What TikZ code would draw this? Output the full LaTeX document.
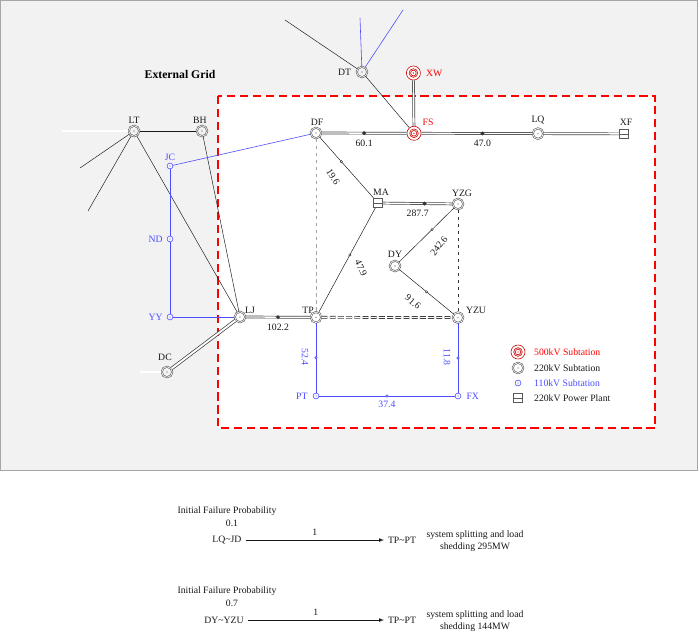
\documentclass[tikz,border=0pt]{standalone}
\usepackage{fontspec}
\setmainfont{Liberation Serif}
\begin{document}
\begin{tikzpicture}[x=0.03cm,y=-0.03cm,font=\fontsize{8.3}{10}\selectfont,
 k/.style={circle,draw=gray!70!black,double=white,double distance=0.6pt,line width=0.5pt,inner sep=0pt,minimum size=9pt,path picture={\fill[gray!60!black](path picture bounding box.center) circle(0.5pt);}},
 r5/.style={circle,draw=red!80!black,fill=white,line width=0.5pt,inner sep=0pt,minimum size=12pt,path picture={\draw[red!80!black,line width=0.5pt](path picture bounding box.center) circle(3.7pt) circle(2.4pt);\fill[red!80!black](path picture bounding box.center) circle(0.6pt);}},
 b/.style={circle,draw=blue!70,fill=white,line width=0.5pt,inner sep=0pt,minimum size=5pt,path picture={\fill[blue!70](path picture bounding box.center) circle(0.5pt);}},
 pp/.style={rectangle,draw=gray!70!black,fill=white,line width=0.4pt,inner sep=0pt,minimum size=8pt,path picture={\draw[gray!70!black](path picture bounding box.west)--(path picture bounding box.east);}},
 ln/.style={draw=gray!20!black,line width=0.4pt},
 dl/.style={draw=white,line width=1.1pt,preaction={draw=gray!55!black,line width=2.3pt}},
 dld/.style={draw=white,line width=1.1pt,dash pattern=on 5pt off 2pt,preaction={draw=gray!30!black,line width=2.3pt,dash pattern=on 5pt off 2pt}},
 bl/.style={draw=blue!70,line width=0.5pt},
 ds/.style={draw=gray!70,dashed,line width=0.6pt},
 lab/.style={text=gray!20!black},
 blab/.style={text=blue!70},
 mk/.style={circle,draw=gray!40!black,fill=white,inner sep=0pt,minimum size=2pt},
]
\useasboundingbox (0,0) rectangle (700,637);
\fill[white](0,0) rectangle (700,637);
\draw[fill=gray!10,draw=gray!70,line width=0.6pt](0,0) rectangle (697,470);
\draw[fill=white,draw=red,dashed,dash pattern=on 7pt off 4pt,line width=1pt](218,96) rectangle (655,428);
\node[font=\bfseries\fontsize{10}{11}\selectfont] at (180,74) {External Grid};
% nodes
\node[k] (DT) at (362,72) {};
\node[r5] (XW) at (413.4,73) {};
\node[r5] (FS) at (414,133.3) {};
\node[k] (DF) at (316,133) {};
\node[k] (LQ) at (538,133.6) {};
\node[pp] (XF) at (624,133.9) {};
\node[k] (LT) at (134,131) {};
\node[k] (BH) at (202,131) {};
\node[b] (JC) at (170,166) {};
\node[b] (ND) at (170,239) {};
\node[b] (YY) at (170,317) {};
\node[k] (LJ) at (240,317) {};
\node[k] (DC) at (167,372) {};
\node[k] (TP) at (316,317.3) {};
\node[pp] (MA) at (378,203) {};
\node[k] (YZG) at (458,204) {};
\node[k] (DY) at (395,266) {};
\node[k] (YZU) at (458,317.6) {};
\node[b] (PT) at (316,396) {};
\node[b] (FX) at (458,396) {};
\coordinate (e1) at (285,20); \coordinate (e2) at (360,18); \coordinate (e3) at (403,10);
\coordinate (e4) at (62,131); \coordinate (e5) at (80,168); \coordinate (e6) at (88,211);
\coordinate (e7) at (140,372);
% connectors
\draw[ln] (DT)--(e1); \draw[bl] (DT)--(e2); \draw[bl] (DT)--(e3);
\draw[ln] (DT)--(FS);
\draw[dl] (XW)--(FS);
\draw[dl] (LT)--(e4); \draw[ln] (LT)--(e5); \draw[ln] (LT)--(e6);
\draw[ln] (LT)--(BH); \draw[ln] (LT)--(LJ); \draw[ln] (BH)--(LJ);
\draw[bl] (JC)--(DF); \draw[bl] (JC)--(ND)--(YY)--(LJ);
\draw[dl] (DC)--(e7);
\draw[dl,line width=1.6pt,preaction={draw=gray!55!black,line width=2.8pt}] (LJ)--(DC);
\draw[dl] (DF)--(FS) node[mk,pos=0.5]{} node[pos=0.5,below=2pt,lab]{60.1};
\draw[dl] (FS)--(LQ) node[mk,pos=0.55]{} node[pos=0.55,below=2pt,lab]{47.0};
\draw[dl] (LQ)--(XF);
\draw[ln] (DF)--(MA) node[mk,pos=0.4]{};
\node[lab,rotate=-58] at (333,177) {19.6};
\draw[ds] (DF)--(TP);
\draw[dl] (MA)--(YZG) node[mk,pos=0.6]{} node[pos=0.5,below=2pt,lab]{287.7};
\draw[ln] (MA)--(TP) node[mk,pos=0.45]{};
\node[lab,rotate=-65] at (361,268) {47.9};
\draw[ln] (YZG)--(DY) node[mk,pos=0.4]{};
\node[lab,rotate=52] at (439,246) {242.6};
\draw[ln] (DY)--(YZU) node[mk,pos=0.5]{};
\node[lab,rotate=-40] at (413,302) {91.6};
\draw[ds,draw=gray!40!black] (YZG)--(YZU);
\draw[dl] (LJ)--(TP) node[mk,pos=0.5]{} node[pos=0.5,below=2pt,lab]{102.2};
\draw[dld] (TP)--(YZU);
\draw[bl] (TP)--(PT) node[mk,draw=blue!70,pos=0.5]{};
\node[blab,rotate=-90] at (305,357) {52.4};
\draw[bl] (YZU)--(FX) node[mk,draw=blue!70,pos=0.5]{};
\node[blab,rotate=-90] at (447,357) {11.8};
\draw[bl] (PT)--(FX) node[mk,draw=blue!70,pos=0.5]{} node[pos=0.5,below=1pt,blab]{37.4};
% labels
\node[lab,left=1pt] at (DT.west) {DT};
\node[text=red,right=1pt] at (XW.east) {XW};
\node[text=red] at (428,122) {FS};
\node[lab] at (317,122) {DF};
\node[lab] at (538,120) {LQ};
\node[lab] at (626,122) {XF};
\node[lab] at (134,120) {LT};
\node[lab] at (200,120) {BH};
\node[blab] at (170,157) {JC};
\node[blab,left=0pt] at (ND.west) {ND};
\node[blab,left=0pt] at (YY.west) {YY};
\node[lab] at (250,310) {LJ};
\node[lab] at (165,357) {DC};
\node[lab] at (308,310) {TP};
\node[lab] at (381,192) {MA};
\node[lab] at (462,193) {YZG};
\node[lab] at (395,254) {DY};
\node[lab] at (476,310) {YZU};
\node[blab,left=1pt] at (PT.west) {PT};
\node[blab,right=1pt] at (FX.east) {FX};
% legend
\node[r5] (L1) at (518,352) {}; \node[text=red,anchor=west] at (530,352) {500kV Subtation};
\node[k] (L2) at (518,368) {}; \node[lab,anchor=west] at (530,368) {220kV Subtation};
\node[b] (L3) at (518,383) {}; \node[blab,anchor=west] at (530,383) {110kV Subtation};
\node[pp] (L4) at (518,398) {}; \node[lab,anchor=west] at (530,398) {220kV Power Plant};
% bottom
\node[lab] at (227,511) {Initial Failure Probability};
\node[lab] at (232,523) {0.1};
\node[lab] (A1) at (227,540) {LQ\textasciitilde JD};
\node[lab] (B1) at (402,540) {TP\textasciitilde PT};
\draw[ln,-latex] (A1)--(B1) node[pos=0.5,above,lab]{1};
\node[lab,align=center] at (475,541) {system splitting and load\\shedding 295MW};
\node[lab] at (227,591) {Initial Failure Probability};
\node[lab] at (232,603) {0.7};
\node[lab] (A2) at (224,620) {DY\textasciitilde YZU};
\node[lab] (B2) at (402,620) {TP\textasciitilde PT};
\draw[ln,-latex] (A2)--(B2) node[pos=0.5,above,lab]{1};
\node[lab,align=center] at (475,621) {system splitting and load\\shedding 144MW};
\end{tikzpicture}
\end{document}
